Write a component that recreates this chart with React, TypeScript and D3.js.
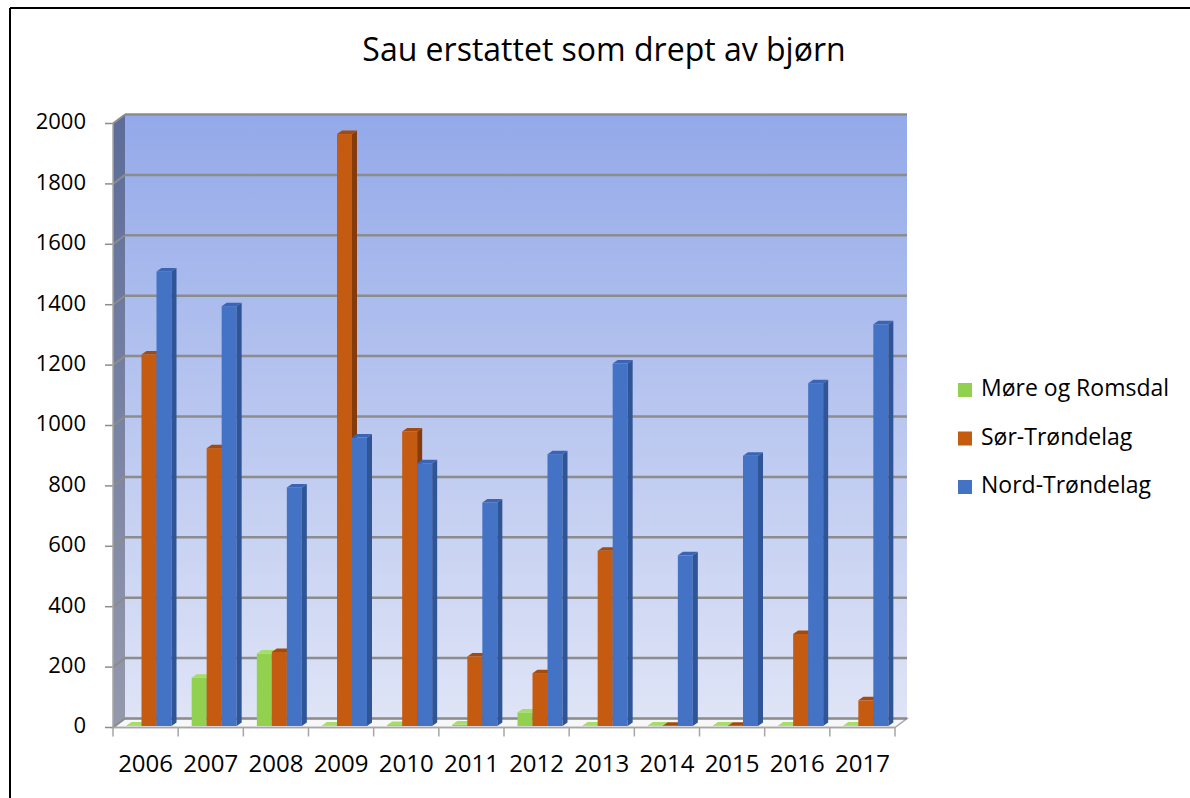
import * as d3 from 'd3';
import React from 'react';

const years = ['2006', '2007', '2008', '2009', '2010', '2011', '2012', '2013', '2014', '2015', '2016', '2017'];
const moreRomsdal = [2, 160, 240, 2, 3, 5, 45, 2, 2, 2, 2, 2];
const sorTrondelag = [1230, 920, 245, 1960, 975, 230, 175, 580, 1, 1, 305, 85];
const nordTrondelag = [1505, 1390, 790, 955, 870, 740, 900, 1200, 565, 895, 1135, 1330];
const yTicks = [0, 200, 400, 600, 800, 1000, 1200, 1400, 1600, 1800, 2000];
const seriesNames = ['Møre og Romsdal', 'Sør-Trøndelag', 'Nord-Trøndelag'];

const title = 'Sau erstattet som drept av bjørn';

const series = [
  { name: seriesNames[0], values: moreRomsdal, front: '#92D050', side: '#6B9E35', top: '#A6DD66' },
  { name: seriesNames[1], values: sorTrondelag, front: '#C55A11', side: '#843C0C', top: '#A54A0D' },
  { name: seriesNames[2], values: nordTrondelag, front: '#4472C4', side: '#2F5597', top: '#3B65B4' },
];

const font = '"Open Sans", Lato, sans-serif';

// 3D depth of the plot box
const depthX = 12;
const depthY = -9;
// small depth of each bar
const barDX = 5;
const barDY = -3.5;
const barW = 15;
const barOffset = 13.5;

const App = () => {
  const x = d3.scaleBand<string>().domain(years).range([113, 895]).padding(0);
  const yFront = d3.scaleLinear().domain([0, 2000]).range([727.5, 123.5]);
  const yBar = d3.scaleLinear().domain([0, 2000]).range([726, 122]);

  const x0 = x.range()[0];
  const x1 = x.range()[1];
  const y0 = yFront(0);
  const yTop = yFront(2000);

  const bars: React.ReactElement[] = [];
  years.forEach((yr, i) => {
    series.forEach((s, j) => {
      const left = (x(yr) as number) + barOffset + j * barW;
      const right = left + barW;
      const top = yBar(s.values[i]);
      const bottom = yBar(0);
      bars.push(
        <g key={yr + j}>
          <rect x={left} y={top} width={barW} height={bottom - top} fill={s.front} />
          <path
            d={`M${right},${top} L${right + barDX},${top + barDY} L${right + barDX},${bottom + barDY} L${right},${bottom} Z`}
            fill={s.side}
          />
          <path
            d={`M${left},${top} L${left + barDX},${top + barDY} L${right + barDX},${top + barDY} L${right},${top} Z`}
            fill={s.top}
          />
        </g>
      );
    });
  });

  return (
    <div style={{ position: 'absolute', left: 0, top: 0 }}>
      <svg width={1190} height={798} style={{ display: 'block', background: '#ffffff' }}>
        <defs>
          <linearGradient id="wallGrad" x1="0" y1="0" x2="0" y2="1">
            <stop offset="0" stopColor="#93A9E9" />
            <stop offset="1" stopColor="#DFE4F6" />
          </linearGradient>
          <linearGradient id="sideGrad" x1="0" y1="0" x2="0" y2="1">
            <stop offset="0" stopColor="#5C6C99" />
            <stop offset="1" stopColor="#9599AC" />
          </linearGradient>
        </defs>

        {/* outer border */}
        <line x1={10} y1={8} x2={1190} y2={8} stroke="#000" strokeWidth={2} />
        <line x1={10} y1={8} x2={10} y2={798} stroke="#000" strokeWidth={2} />

        <text x={604} y={52} textAnchor="middle" dominantBaseline="middle" fontFamily={font} fontSize={32} fill="#000">
          {title}
        </text>

        {/* back wall */}
        <rect x={x0 + depthX} y={yTop + depthY} width={x1 - x0} height={y0 - yTop} fill="url(#wallGrad)" />
        {/* side wall */}
        <path
          d={`M${x0},${yTop} L${x0 + depthX},${yTop + depthY} L${x0 + depthX},${y0 + depthY} L${x0},${y0} Z`}
          fill="url(#sideGrad)"
        />
        {/* floor */}
        <path
          d={`M${x0},${y0} L${x0 + depthX},${y0 + depthY} L${x1 + depthX},${y0 + depthY} L${x1},${y0} Z`}
          fill="#F7F7F7"
          stroke="#A6A6A6"
          strokeWidth={1.5}
        />

        {/* gridlines */}
        {yTicks.map((t) => (
          <g key={t}>
            <line x1={x0 + depthX} x2={x1 + depthX} y1={yFront(t) + depthY} y2={yFront(t) + depthY} stroke="#8C8C8C" strokeWidth={2.5} />
            <line x1={x0} x2={x0 + depthX} y1={yFront(t)} y2={yFront(t) + depthY} stroke="#8C8C8C" strokeWidth={2} />
            <line x1={x0 - 8} x2={x0} y1={yFront(t)} y2={yFront(t)} stroke="#8C8C8C" strokeWidth={1.5} />
            <text x={86} y={yFront(t)} textAnchor="end" dominantBaseline="middle" fontFamily={font} fontSize={22} fill="#000">
              {t}
            </text>
          </g>
        ))}
        <line x1={x0} x2={x0} y1={yTop} y2={y0} stroke="#A6A6A6" strokeWidth={1.5} />

        {bars}

        {/* x axis */}
        <line x1={x0} x2={x1} y1={y0} y2={y0} stroke="#A6A6A6" strokeWidth={1.5} />
        {years.map((yr) => (
          <line key={'t' + yr} x1={x(yr)} x2={x(yr)} y1={y0} y2={y0 + 9} stroke="#A6A6A6" strokeWidth={1.5} />
        ))}
        <line x1={x1} x2={x1} y1={y0} y2={y0 + 9} stroke="#A6A6A6" strokeWidth={1.5} />
        {years.map((yr) => (
          <text
            key={'l' + yr}
            x={(x(yr) as number) + x.bandwidth() / 2}
            y={766}
            textAnchor="middle"
            dominantBaseline="middle"
            fontFamily={font}
            fontSize={24}
            fill="#000"
          >
            {yr}
          </text>
        ))}

        {/* legend */}
        {series.map((s, i) => (
          <g key={s.name} transform={`translate(958,${390 + i * 48.5})`}>
            <rect x={0} y={-7} width={14} height={14} fill={s.front} />
            <text x={23} y={0} dominantBaseline="middle" fontFamily={font} fontSize={23} fill="#000">
              {s.name}
            </text>
          </g>
        ))}
      </svg>
    </div>
  );
};

export default App;
